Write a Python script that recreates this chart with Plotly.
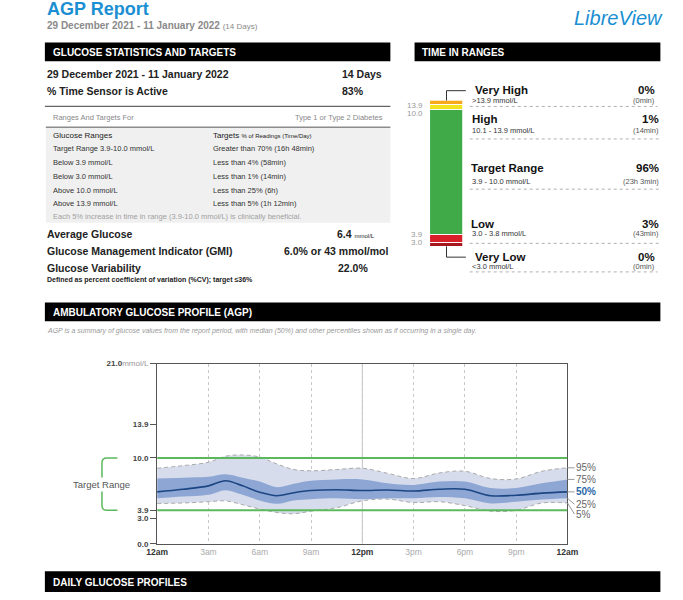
import plotly.graph_objects as go

FONT = "Liberation Sans, Arial, sans-serif"
W, H = 683, 600

# ---------------- data ----------------
hours = [0, 1.5, 3, 4, 5, 6, 7, 8, 9, 10.5, 12, 13.5, 15, 16.5, 18, 19.5, 21, 22.5, 24]
p95 = [8.8, 9.1, 9.5, 10.2, 10.35, 10.1, 9.3, 8.65, 8.5, 8.65, 8.8, 8.2, 7.6, 8.25, 8.45, 7.6, 7.55, 8.45, 8.85]
p75 = [7.6, 7.7, 7.8, 8.1, 7.7, 7.25, 6.6, 7.0, 7.35, 7.5, 7.5, 7.05, 6.85, 7.25, 7.25, 6.5, 6.5, 7.05, 7.5]
p50 = [6.05, 6.35, 6.75, 7.35, 6.75, 6.0, 5.6, 5.95, 6.2, 6.3, 6.2, 6.27, 6.15, 6.35, 6.35, 5.6, 5.66, 5.9, 6.05]
p25 = [5.3, 5.5, 5.7, 6.25, 5.7, 5.05, 4.65, 5.05, 5.2, 5.3, 5.2, 5.3, 5.3, 5.45, 5.3, 4.7, 4.9, 5.15, 5.3]
p05 = [4.7, 4.75, 4.9, 5.0, 4.55, 4.05, 3.65, 3.5, 3.8, 4.2, 5.0, 5.2, 4.8, 4.9, 4.45, 3.8, 3.9, 4.75, 4.75]

x_tickvals = [0, 3, 6, 9, 12, 15, 18, 21, 24]
x_ticklabels = ["12am", "3am", "6am", "9am", "12pm", "3pm", "6pm", "9pm", "12am"]
y_tickvals = [0.0, 3.0, 3.9, 10.0, 13.9, 21.0]
target_low, target_high = 3.9, 10.0

tir_names = ["Very Low", "Low", "Target Range", "High", "Very High"]
tir_pct = [0, 3, 96, 1, 0]
tir_time = ["0min", "43min", "23h 3min", "14min", "0min"]
tir_ranges = ["&lt;3.0 mmol/L", "3.0 - 3.8 mmol/L", "3.9 - 10.0 mmol/L", "10.1 - 13.9 mmol/L", "&gt;13.9 mmol/L"]
tir_colors = ["#a5161f", "#d7202a", "#40aa48", "#f3e21e", "#f6a91d"]
tir_bounds = ["3.0", "3.9", "10.0", "13.9"]

stats_rows = [("Target Range 3.9-10.0 mmol/L", "Greater than 70% (16h 48min)"),
              ("Below 3.9 mmol/L", "Less than 4% (58min)"),
              ("Below 3.0 mmol/L", "Less than 1% (14min)"),
              ("Above 10.0 mmol/L", "Less than 25% (6h)"),
              ("Above 13.9 mmol/L", "Less than 5% (1h 12min)")]


def px(x):
    return x / W


def py(y):
    return 1 - y / H


fig = go.Figure()
ann = []
shapes = []


def text(x, y, s, size=8, color="#222", anchor="left", bold=False, italic=False, **kw):
    if bold:
        s = "<b>" + s + "</b>"
    if italic:
        s = "<i>" + s + "</i>"
    ann.append(dict(x=px(x), y=py(y), xref="paper", yref="paper", text=s, showarrow=False,
                    xanchor=anchor, yanchor="middle", font=dict(family=FONT, size=size, color=color), **kw))


def rect(x0, y0, x1, y1, fill, line=None):
    shapes.append(dict(type="rect", xref="paper", yref="paper", x0=px(x0), x1=px(x1), y0=py(y1), y1=py(y0),
                       fillcolor=fill, line=dict(width=0) if line is None else line, layer="below"))


def hline(x0, x1, y, color, width=1, dash="solid"):
    shapes.append(dict(type="line", xref="paper", yref="paper", x0=px(x0), x1=px(x1), y0=py(y), y1=py(y),
                       line=dict(color=color, width=width, dash=dash)))


# ---------------- AGP traces ----------------
fig.add_trace(go.Scatter(x=hours, y=p05, mode="lines", line=dict(width=0, shape="spline"),
                         hoverinfo="skip", showlegend=False))
fig.add_trace(go.Scatter(x=hours, y=p95, mode="lines", line=dict(width=0, shape="spline"), fill="tonexty",
                         fillcolor="#d6dcec", hoverinfo="skip", showlegend=False))
fig.add_trace(go.Scatter(x=hours, y=p25, mode="lines", line=dict(width=0, shape="spline"),
                         hoverinfo="skip", showlegend=False))
fig.add_trace(go.Scatter(x=hours, y=p75, mode="lines", line=dict(width=0, shape="spline"), fill="tonexty",
                         fillcolor="#8ea6d4", hoverinfo="skip", showlegend=False))
for s in (p95, p05):
    fig.add_trace(go.Scatter(x=hours, y=s, mode="lines", line=dict(width=1, shape="spline", dash="4px,3px", color="#a9a9a9"),
                             hoverinfo="skip", showlegend=False))
fig.add_trace(go.Scatter(x=hours, y=p50, mode="lines", line=dict(width=1.6, shape="spline", color="#1c4683"),
                         hoverinfo="skip", showlegend=False))

# ---------------- Time-in-ranges stacked bar ----------------
# the report gives every band a minimum visible height
tir_disp = [p + 3 for p in tir_pct]
for name, h, c in zip(tir_names, tir_disp, tir_colors):
    fig.add_trace(go.Bar(x=["TIR"], y=[h], marker=dict(color=c, line=dict(color="white", width=0.8)),
                         xaxis="x2", yaxis="y2", width=1, showlegend=False, hoverinfo="skip", name=name))
cum = 0
for i, lab in enumerate(tir_bounds):
    cum += tir_disp[i]
    ann.append(dict(x=0, y=cum, xref="x2 domain", yref="y2", text=lab, showarrow=False, xanchor="right",
                    yanchor="middle", xshift=-5, yshift=(-4 if lab == "10.0" else 0) + (-1 if lab == "13.9" else 0),
                    font=dict(family=FONT, size=8, color="#999")))

# ---------------- header ----------------
text(35, 5, "AGP Report", size=18, color="#1b8fd2", bold=True)
text(35, 22, "<b>29 December 2021 - 11 January 2022</b> <span style='font-size:8px;font-weight:normal'>(14 Days)</span>",
     size=10, color="#8a8a8a")
text(676, 14, "LibreView", size=20, color="#1b8fd2", anchor="right", italic=True)

# section bars
for (x0, x1, y0, y1, lab) in [(35, 392, 39, 58, "GLUCOSE STATISTICS AND TARGETS"),
                              (417, 671, 39, 58, "TIME IN RANGES"),
                              (35, 671, 303, 322, "AMBULATORY GLUCOSE PROFILE (AGP)"),
                              (35, 671, 576, 597, "DAILY GLUCOSE PROFILES")]:
    rect(x0, y0, x1, y1, "#000000")
    text(x0 + 6, (y0 + y1) / 2 + 0.5, lab, size=10, color="white", bold=True)

# ---------------- statistics panel ----------------
text(35, 71, "29 December 2021 - 11 January 2022", size=10.5, bold=True)
text(340, 71, "14 Days", size=10.5, bold=True)
text(35, 88, "% Time Sensor is Active", size=10.5, bold=True)
text(340, 88, "83%", size=10.5, bold=True)
hline(35, 392, 104, "#666", 1.2)
text(41, 115, "Ranges And Targets For", size=7.5, color="#888")
text(386, 115, "Type 1 or Type 2 Diabetes", size=7.5, color="#888", anchor="right")
rect(36, 125, 392, 222, "#f0f0f0")
hline(36, 392, 125, "#8c8c8c", 1.5)
text(41, 134, "Glucose Ranges", size=8, color="#222")
text(207, 134, "Targets <span style='font-size:6px'>% of Readings (Time/Day)</span>", size=8, color="#222")
row_y = [147, 161, 175, 189, 203]
for (a, b), yy in zip(stats_rows, row_y):
    text(41, yy, a, size=7.5, color="#333")
    text(207, yy, b, size=7.5, color="#333")
text(41, 216, "Each 5% increase in time in range (3.9-10.0 mmol/L) is clinically beneficial.", size=7.5, color="#a0a0a0")

text(35, 234, "Average Glucose", size=10.5, bold=True)
text(378, 234, "<b>6.4</b> <span style='font-size:6px'>mmol/L</span>", size=10.5, anchor="right")
text(35, 251, "Glucose Management Indicator (GMI)", size=10.5, bold=True)
text(393, 251, "6.0% or 43 mmol/mol", size=10.5, bold=True, anchor="right")
text(35, 268, "Glucose Variability", size=10.5, bold=True)
text(371, 268, "22.0%", size=10.5, bold=True, anchor="right")
text(35, 280, "Defined as percent coefficient of variation (%CV); target ≤36%", size=7, bold=True)

# ---------------- time in ranges labels ----------------
rows_y = {"Very High": (87, 98, 104, 477, 668), "High": (117, 128, 137, 474, 672),
          "Target Range": (167, 180, 188, 473, 672), "Low": (223, 233, 243, 473, 672),
          "Very Low": (257, 267, 272, 477, 668)}
for name, pct, tm, rg in zip(tir_names, tir_pct, tir_time, tir_ranges):
    ty, sy, dy, tx, rx = rows_y[name]
    text(tx, ty, name, size=11.5, bold=True, color="#111")
    text(474, sy, rg, size=7.5, color="#333")
    text(rx, ty, f"{pct}%", size=11.5, bold=True, color="#111", anchor="right")
    text(rx, sy, f"({tm})", size=7.5, color="#555", anchor="right")
    hline(474, rx, dy, "#b0b0b0", 1, "dot")
# connectors
shapes.append(dict(type="path", xref="paper", yref="paper",
                   path=f"M {px(450)},{py(98)} L {px(450)},{py(88)} L {px(470)},{py(88)}",
                   line=dict(color="#333", width=1)))
shapes.append(dict(type="path", xref="paper", yref="paper",
                   path=f"M {px(450)},{py(246)} L {px(450)},{py(257)} L {px(470)},{py(257)}",
                   line=dict(color="#333", width=1)))

# ---------------- AGP annotations ----------------
text(35, 332, "AGP is a summary of glucose values from the report period, with median (50%) and other percentiles "
     "shown as if occurring in a single day.", size=7, color="#999", italic=True)

for yv in (target_low, target_high):
    shapes.append(dict(type="line", xref="x", yref="y", x0=0, x1=24, y0=yv, y1=yv,
                       line=dict(color="#5cb85c", width=2), layer="above"))
shapes.append(dict(type="line", xref="x", yref="y", x0=12, x1=12, y0=0, y1=21,
                   line=dict(color="#c4c4c4", width=1), layer="below"))
# target range bracket
y_top = 548 - target_high / 21 * 183
y_bot = 548 - target_low / 21 * 183
shapes.append(dict(type="path", xref="paper", yref="paper",
                   path=(f"M {px(110)},{py(y_top)} L {px(99)},{py(y_top)} Q {px(94)},{py(y_top)} {px(94)},{py(y_top+5)} "
                         f"L {px(94)},{py(y_bot-5)} Q {px(94)},{py(y_bot)} {px(99)},{py(y_bot)} L {px(110)},{py(y_bot)}"),
                   line=dict(color="#5cb85c", width=1.5)))
text(94, (y_top + y_bot) / 2, "Target Range", size=9.5, color="#555", anchor="center", bgcolor="white")

# percentile labels on the right
for lab, series, dy, col, bold in [("95%", p95, 0, "#666", False), ("75%", p75, 0, "#666", False),
                                   ("50%", p50, 0, "#2c68a8", True), ("25%", p25, 6, "#666", False),
                                   ("5%", p05, 11, "#666", False)]:
    ann.append(dict(x=24, y=series[-1], xref="x", yref="y", text=("<b>" + lab + "</b>") if bold else lab,
                    showarrow=True, arrowhead=0, arrowwidth=1, arrowcolor="#999", ax=7, ay=dy,
                    xanchor="left", yanchor="middle", standoff=0,
                    font=dict(family=FONT, size=10, color=col)))

y_ticktext = ["<b>0.0</b>", "<b>3.0</b>", "<b>3.9</b>", "<b>10.0</b>", "<b>13.9</b>",
              "<b>21.0</b><span style='color:#999'>mmol/L</span>"]
x_ticktext = [("<b>" + t + "</b>") if t.startswith("12") else ("<span style='color:#aaa'>" + t + "</span>")
              for t in x_ticklabels]

fig.update_layout(
    width=W, height=H, margin=dict(l=0, r=0, t=0, b=0),
    paper_bgcolor="white", plot_bgcolor="white", barmode="stack", bargap=0,
    font=dict(family=FONT),
    xaxis=dict(domain=[px(151), px(575)], range=[0, 24], tickvals=x_tickvals, ticktext=x_ticktext,
               showgrid=True, gridcolor="#c8c8c8", griddash="dot", gridwidth=1, zeroline=False,
               showline=True, linecolor="#555", linewidth=1.2, mirror=True, ticks="",
               tickfont=dict(family=FONT, size=8.5, color="#333"), fixedrange=True),
    yaxis=dict(domain=[py(548), py(365)], range=[0, 21], tickvals=y_tickvals, ticktext=y_ticktext,
               showgrid=False, zeroline=False, showline=True, linecolor="#555", linewidth=1.2, mirror=True,
               ticks="outside", ticklen=6, tickcolor="#555", tickfont=dict(family=FONT, size=8, color="#444"),
               fixedrange=True),
    xaxis2=dict(domain=[px(433), px(467)], anchor="y2", visible=False, range=[-0.5, 0.5]),
    yaxis2=dict(domain=[py(246), py(98)], anchor="x2", visible=False, range=[0, sum(tir_disp)]),
    annotations=ann, shapes=shapes,
)

fig.write_html("out.html", config={"displayModeBar": False},
               post_script="document.body.style.margin='0';document.body.style.padding='0';")
